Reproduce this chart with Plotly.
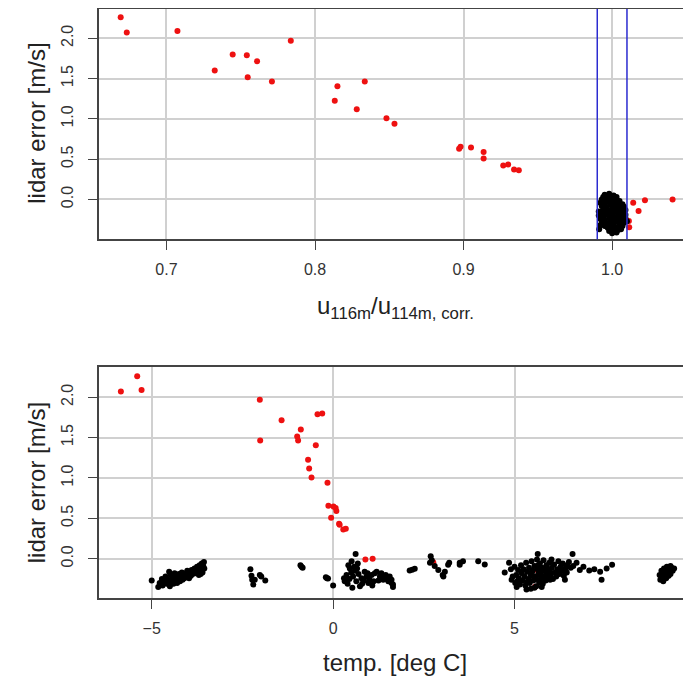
import plotly.graph_objects as go
from plotly.subplots import make_subplots

# ---- red points (flagged): lidar error, velocity ratio, temperature ----
red_err = [2.26, 2.09, 2.07, 1.97, 1.80, 1.79, 1.715, 1.60, 1.515, 1.465, 1.465, 1.405,
           1.225, 1.118, 1.007, 0.94, 0.655, 0.646, 0.630, 0.59, 0.508, 0.435, 0.42,
           0.372, 0.362, 0.0, -0.009, -0.042, -0.144, -0.268, -0.346]
red_ratio = [0.6692, 0.7074, 0.6733, 0.7837, 0.7446, 0.7541, 0.761, 0.7325, 0.7547, 0.771,
             0.8335, 0.8151, 0.8133, 0.8281, 0.8481, 0.8535, 0.898, 0.905, 0.897, 0.9135,
             0.9135, 0.930, 0.9267, 0.934, 0.9372, 1.0407, 1.0221, 1.0142, 1.0178, 1.0113, 1.0115]
red_temp = [-5.40, -5.28, -5.85, -2.02, -0.30, -0.43, -1.42, -0.89, -0.99, -2.01,
            -0.965, -0.477, -0.69, -0.66, -0.595, -0.155, -0.13, 0.01, 0.07, 0.09,
            -0.055, 0.165, 0.18, 0.35, 0.28, 1.09, 0.89, 2.76, 5.64, 5.40, 5.57]

# ---- black points, top panel (ratio vs error) ----
blk_ratio = [0.995, 0.998, 1.001,
             0.994, 0.997, 1.000, 1.003,
             0.993, 0.996, 0.999, 1.002, 1.005,
             0.992, 0.995, 0.998, 1.001, 1.004, 1.007,
             0.993, 0.996, 0.999, 1.002, 1.005, 1.008,
             0.991, 0.994, 0.997, 1.000, 1.003, 1.006, 1.009,
             0.992, 0.995, 0.998, 1.001, 1.004, 1.007, 1.009,
             0.991, 0.994, 0.997, 1.000, 1.003, 1.006, 1.009,
             0.992, 0.995, 0.998, 1.001, 1.004, 1.007, 1.010,
             0.993, 0.996, 0.999, 1.002, 1.005, 1.008,
             0.992, 0.995, 0.998, 1.001, 1.004, 1.007,
             0.9913, 0.997, 1.000, 1.003, 1.006,
             0.998, 1.001, 1.004,
             1.000, 1.003]
blk_err_top = [0.06, 0.07, 0.05,
               0.03, 0.02, 0.04, 0.03,
               0.00, -0.01, 0.01, 0.00, -0.02,
               -0.04, -0.05, -0.03, -0.04, -0.05, -0.06,
               -0.08, -0.09, -0.07, -0.08, -0.10, -0.09,
               -0.15, -0.12, -0.13, -0.11, -0.12, -0.14, -0.13,
               -0.16, -0.17, -0.15, -0.16, -0.18, -0.17, -0.19,
               -0.20, -0.21, -0.19, -0.20, -0.22, -0.21, -0.23,
               -0.24, -0.25, -0.23, -0.24, -0.26, -0.25, -0.27,
               -0.28, -0.29, -0.27, -0.28, -0.30, -0.29,
               -0.32, -0.33, -0.31, -0.32, -0.34, -0.33,
               -0.37, -0.35, -0.36, -0.35, -0.37,
               -0.39, -0.40, -0.38,
               -0.42, -0.41]

# ---- black points, bottom panel (temperature vs error) ----
blk_temp = [
    # around -5 .. -3.5
    -5.00, -4.82, -4.78, -4.72, -4.70, -4.65, -4.62, -4.58, -4.55, -4.52, -4.50, -4.48,
    -4.45, -4.42, -4.40, -4.37, -4.35, -4.32, -4.30, -4.27, -4.25, -4.22, -4.20, -4.17,
    -4.15, -4.12, -4.10, -4.07, -4.05, -4.02, -4.00, -3.97, -3.95, -3.92, -3.90, -3.87,
    -3.85, -3.82, -3.80, -3.78, -3.75, -3.73, -3.70, -3.68, -3.66, -3.64, -3.62, -3.60,
    -3.58, -3.56, -3.55, -3.60, -3.65, -3.70,
    # around -2
    -2.28, -2.25, -2.20, -2.16, -2.02, -1.98, -1.87, -2.23,
    # around -0.9 and 0
    -0.90, -0.84, -0.87, -0.20, -0.14, 0.00, -0.17,
    # 0.3 .. 1.7
    0.62, 0.51, 0.46, 0.37, 0.32, 0.55, 0.64, 0.74, 0.87, 0.97, 1.06, 1.20, 1.29, 1.38,
    1.52, 1.65, 1.61, 1.38, 1.61, 1.65, 0.42, 0.58, 0.68, 0.50, 0.60, 0.70, 0.78, 0.45,
    0.40, 0.85, 0.92, 1.00, 1.12, 1.15, 1.25, 1.33, 1.45, 1.48, 1.56, 0.80, 1.08, 0.53,
    0.30, 0.66, 0.95,
    # 2 .. 4.2
    2.11, 2.25, 2.18, 2.69, 2.67, 2.80, 2.90, 3.02, 3.04, 3.08, 3.17, 3.20, 3.49, 3.58,
    3.49, 4.00, 4.18, 2.72,
    # 4.7 .. 7.7
    4.85, 4.73, 4.92, 5.06, 5.33, 5.64, 6.60, 6.80, 7.06, 7.36, 7.40, 7.54, 7.69, 6.71,
    6.44, 6.39, 5.98, 6.02,
    5.00, 5.05, 5.08, 5.10, 5.12, 5.15, 5.18, 5.20, 5.22, 5.25, 5.28, 5.30, 5.32, 5.35,
    5.38, 5.40, 5.42, 5.45, 5.47, 5.50, 5.52, 5.55, 5.57, 5.60, 5.62, 5.64, 5.66, 5.68,
    5.70, 5.72, 5.74, 5.76, 5.78, 5.80, 5.82, 5.84, 5.86, 5.88, 5.90, 5.92, 5.94, 5.96,
    5.98, 6.00, 6.03, 6.06, 6.09, 6.12, 6.15, 6.18, 6.21, 6.24, 6.27, 6.30, 6.33, 6.36,
    6.40, 6.45, 6.50, 6.55, 6.62, 6.90, 7.20, 5.55, 5.75, 5.45, 4.95, 4.90, 5.02, 5.60,
    5.70, 5.50, 5.85, 5.65, 5.35,
    # around 9.2
    9.00, 9.02, 9.05, 9.08, 9.10, 9.12, 9.15, 9.18, 9.20, 9.22, 9.25, 9.28, 9.30, 9.33,
    9.36, 9.40, 9.10, 9.20, 9.30, 9.05]
blk_err_bot = [
    -0.27, -0.35, -0.30, -0.25, -0.33, -0.28, -0.22, -0.31, -0.26, -0.16, -0.34, -0.20,
    -0.29, -0.24, -0.31, -0.18, -0.27, -0.22, -0.30, -0.25, -0.19, -0.28, -0.23, -0.17,
    -0.26, -0.21, -0.24, -0.18, -0.22, -0.15, -0.20, -0.24, -0.17, -0.21, -0.14, -0.19,
    -0.16, -0.12, -0.18, -0.15, -0.10, -0.17, -0.13, -0.08, -0.15, -0.11, -0.06, -0.13,
    -0.09, -0.04, -0.12, -0.17, -0.19, -0.20,
    -0.13, -0.21, -0.32, -0.26, -0.20, -0.22, -0.27, -0.26,
    -0.08, -0.11, -0.10, -0.23, -0.245, -0.33, -0.24,
    0.06, -0.03, -0.12, -0.20, -0.28, -0.22, -0.28, -0.34, -0.16, -0.30, -0.20, -0.16,
    -0.22, -0.26, -0.28, -0.32, -0.26, -0.22, -0.30, -0.35, -0.08, -0.10, -0.06, -0.17,
    -0.15, -0.19, -0.24, -0.25, -0.31, -0.27, -0.22, -0.25, -0.28, -0.18, -0.27, -0.18,
    -0.20, -0.25, -0.22, -0.31, -0.33, -0.36, -0.24, -0.12, -0.18,
    -0.145, -0.124, -0.136, 0.03, -0.05, -0.09, -0.14, -0.20, -0.22, -0.16, -0.075, -0.05,
    -0.075, -0.03, -0.05, -0.03, -0.07, -0.02,
    -0.05, -0.17, -0.26, -0.35, -0.38, 0.06, 0.06, -0.14, -0.145, -0.16, -0.26, -0.12,
    -0.075, -0.05, -0.17, -0.26, -0.26, -0.01,
    -0.10, -0.20, -0.28, -0.14, -0.24, -0.32, -0.08, -0.18, -0.27, -0.13, -0.22, -0.33,
    -0.05, -0.16, -0.25, -0.11, -0.30, -0.20, -0.03, -0.15, -0.27, -0.09, -0.22, -0.34,
    -0.01, -0.13, -0.19, -0.29, -0.06, -0.17, -0.24, -0.11, -0.31, -0.02, -0.15, -0.21,
    -0.27, -0.08, -0.18, -0.13, -0.23, -0.05, -0.16, -0.20, -0.11, -0.25, -0.07, -0.17,
    -0.22, -0.13, -0.03, -0.19, -0.10, -0.15, -0.06, -0.21, -0.12, -0.08, -0.04, -0.11,
    -0.09, -0.10, -0.13, -0.36, -0.35, -0.37, -0.22, -0.13, -0.30, -0.25, -0.20, -0.21,
    -0.12, -0.08, -0.29,
    -0.20, -0.26, -0.15, -0.22, -0.28, -0.12, -0.18, -0.24, -0.10, -0.16, -0.21, -0.13,
    -0.19, -0.11, -0.15, -0.12, -0.20, -0.22, -0.09, -0.24]

ratio_bounds = [0.99, 1.01]

y_tickvals = [0.0, 0.5, 1.0, 1.5, 2.0]
top_x_tickvals = [0.7, 0.8, 0.9, 1.0]
bot_x_tickvals = [-5, 0, 5]

RED = "#ee1111"
BLK = "#000000"
GRID = "#d0d0d0"
AXC = "#444444"
FONT = "Liberation Sans, Arial, Helvetica, sans-serif"

fig = make_subplots(rows=2, cols=1)

fig.add_trace(go.Scatter(x=red_ratio, y=red_err, mode="markers",
                         marker=dict(color=RED, size=6, line=dict(width=0)),
                         showlegend=False), row=1, col=1)
fig.add_trace(go.Scatter(x=blk_ratio, y=blk_err_top, mode="markers",
                         marker=dict(color=BLK, size=6, line=dict(width=0)),
                         showlegend=False), row=1, col=1)
fig.add_trace(go.Scatter(x=red_temp, y=red_err, mode="markers",
                         marker=dict(color=RED, size=6, line=dict(width=0)),
                         showlegend=False), row=2, col=1)
fig.add_trace(go.Scatter(x=blk_temp, y=blk_err_bot, mode="markers",
                         marker=dict(color=BLK, size=6, line=dict(width=0)),
                         showlegend=False), row=2, col=1)

for b in ratio_bounds:
    fig.add_vline(x=b, line=dict(color="#2b2bd0", width=1.5), row=1, col=1)

common_x = dict(showline=True, linecolor=AXC, linewidth=1.5, mirror=True,
                showgrid=True, gridcolor=GRID, gridwidth=1.5, zeroline=False,
                ticks="outside", ticklen=9, tickwidth=1.2, tickcolor=AXC,
                ticklabelstandoff=6,
                tickfont=dict(family=FONT, size=16, color="#333333"))
common_y = dict(showline=True, linecolor=AXC, linewidth=1.5, mirror=False,
                showgrid=True, gridcolor=GRID, gridwidth=1.5, zeroline=False,
                ticks="outside", ticklen=9, tickwidth=1.2, tickcolor=AXC,
                tickangle=-90, tickvals=y_tickvals, ticklabelstandoff=9,
                ticktext=[f"{v:.1f}" for v in y_tickvals],
                tickfont=dict(family=FONT, size=16, color="#333333"))

fig.update_xaxes(range=[0.6546, 1.0531], tickvals=top_x_tickvals,
                 ticktext=[f"{v:.1f}" for v in top_x_tickvals], row=1, col=1, **common_x)
fig.update_xaxes(range=[-6.453, 9.865], tickvals=bot_x_tickvals, row=2, col=1, **common_x)
fig.update_yaxes(range=[-0.494, 2.363], domain=[0.609, 1.0], row=1, col=1, **common_y)
fig.update_yaxes(range=[-0.486, 2.371], domain=[0.0, 0.3917], row=2, col=1, **common_y)

title_font = dict(family=FONT, size=24, color="#222222")
annotations = [
    dict(text="u<sub>116m</sub>/u<sub>114m, corr.</sub>", x=0.5, y=0.4924,
         xref="paper", yref="paper", showarrow=False, font=title_font,
         xanchor="center", yanchor="middle"),
    dict(text="temp. [deg C]", x=0.5, y=-0.110, xref="paper", yref="paper",
         showarrow=False, font=title_font, xanchor="center", yanchor="middle"),
    dict(text="lidar error [m/s]", x=-0.106, y=0.8056, xref="paper", yref="paper",
         showarrow=False, font=title_font, textangle=-90,
         xanchor="center", yanchor="middle"),
    dict(text="lidar error [m/s]", x=-0.106, y=0.1952, xref="paper", yref="paper",
         showarrow=False, font=title_font, textangle=-90,
         xanchor="center", yanchor="middle"),
]

# the page body adds an 8 px margin on every side, so the figure is kept
# 16 px shorter than the window (no scrollbar) and shifted by 8 px
fig.update_layout(width=683, height=672, margin=dict(l=91, r=0, t=1, b=82),
                  paper_bgcolor="white", plot_bgcolor="white",
                  annotations=annotations, showlegend=False)

fig.write_html("out.html")
